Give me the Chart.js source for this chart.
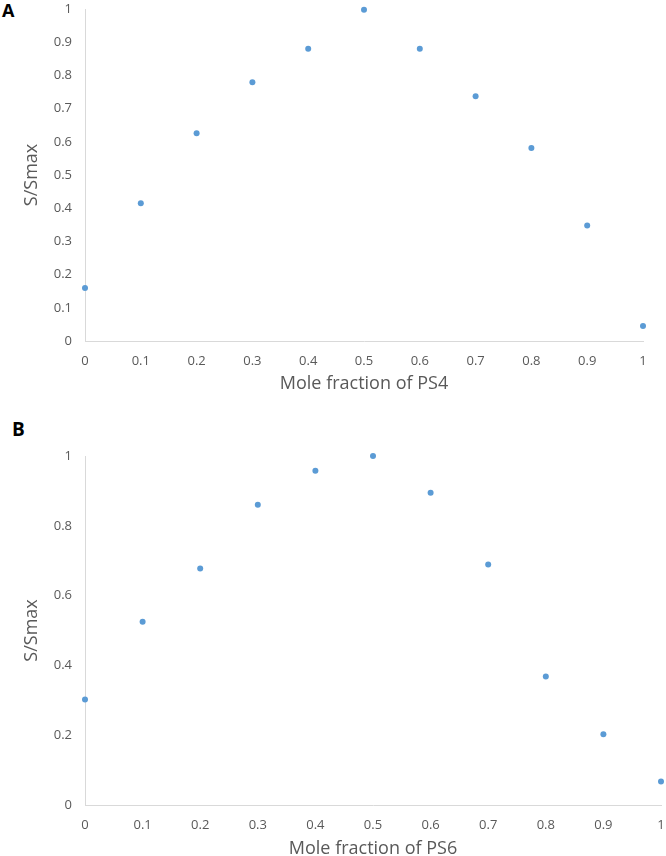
<!DOCTYPE html>
<html>
<head>
<meta charset="utf-8">
<script src="https://cdn.jsdelivr.net/npm/chart.js@4/dist/chart.umd.min.js"></script>
<style>
  html, body { margin: 0; padding: 0; background: #fff; width: 666px; height: 856px; overflow: hidden; position: relative; }
  .panel { position: absolute; left: 0; }
  .tag { position: absolute; font-family: "Open Sans", sans-serif; font-weight: bold; color: #000; }
</style>
</head>
<body>
<div class="tag" style="left:2px; top:-2px; font-size:18px;">A</div>
<div class="tag" style="left:12px; top:416px; font-size:19px;">B</div>
<canvas id="chartA" class="panel" style="top:0px;" width="666" height="395"></canvas>
<canvas id="chartB" class="panel" style="top:400px;" width="666" height="460"></canvas>
<script>
// ---- data ----
const moleFractions = [0, 0.1, 0.2, 0.3, 0.4, 0.5, 0.6, 0.7, 0.8, 0.9, 1];
const ratioPS4 = [0.160, 0.415, 0.626, 0.779, 0.880, 0.998, 0.880, 0.737, 0.581, 0.348, 0.045];
const ratioPS6 = [0.302, 0.525, 0.678, 0.860, 0.958, 1.000, 0.895, 0.689, 0.368, 0.203, 0.067];
const xTitleA = "Mole fraction of PS4";
const xTitleB = "Mole fraction of PS6";
const yTitle = "S/Smax";

const textColor = "#595959";
const axisColor = "#d9d9d9";
const pointColor = "#5b9bd5";
const fontFamily = "'Open Sans', sans-serif";

function fmt(v) { return String(parseFloat(Number(v).toFixed(2))); }

function makeChart(id, values, xTitle, yStep, pad, xHeight) {
  const pts = moleFractions.map((x, i) => ({ x: x, y: values[i] }));
  return new Chart(document.getElementById(id), {
    type: 'scatter',
    data: {
      datasets: [{
        data: pts,
        backgroundColor: pointColor,
        borderColor: pointColor,
        borderWidth: 0,
        pointRadius: 3,
        pointHoverRadius: 3,
        clip: false
      }]
    },
    options: {
      responsive: false,
      animation: false,
      events: [],
      layout: { padding: pad },
      plugins: { legend: { display: false }, tooltip: { enabled: false } },
      scales: {
        x: {
          type: 'linear',
          min: 0, max: 1,
          grid: { display: false, drawTicks: false },
          border: { display: true, color: axisColor, width: 1 },
          ticks: { stepSize: 0.1, padding: 12, color: textColor, font: { family: fontFamily, size: 13 }, callback: fmt, maxRotation: 0 },
          title: { display: true, text: xTitle, color: textColor, font: { family: fontFamily, size: 18 }, padding: { top: 0, bottom: 0 } },
          afterFit: (s) => { s.height = xHeight; s.paddingLeft = 0; s.paddingRight = 0; }
        },
        y: {
          type: 'linear',
          min: 0, max: 1,
          grid: { display: false, drawTicks: false },
          border: { display: true, color: axisColor, width: 1 },
          ticks: { stepSize: yStep, padding: 13, color: textColor, font: { family: fontFamily, size: 13 }, callback: fmt },
          title: { display: true, text: yTitle, color: textColor, font: { family: fontFamily, size: 18 }, padding: { top: 21, bottom: 0 } },
          afterFit: (s) => { s.width = 85; s.paddingTop = 0; s.paddingBottom = 0; }
        }
      }
    }
  });
}

makeChart('chartA', ratioPS4, xTitleA, 0.1, { top: 9, right: 23, bottom: 0, left: 0 }, 54);
makeChart('chartB', ratioPS6, xTitleB, 0.2, { top: 56, right: 5, bottom: 0, left: 0 }, 55);
</script>
</body>
</html>
